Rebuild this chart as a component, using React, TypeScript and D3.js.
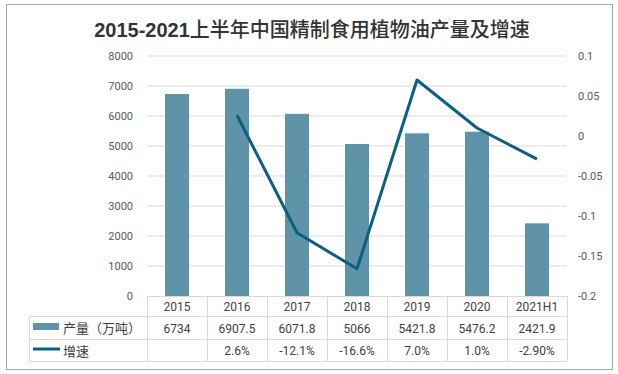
import * as d3 from "d3";
import { useEffect } from "react";

const categories = ["2015", "2016", "2017", "2018", "2019", "2020", "2021H1"];
const output = [6734, 6907.5, 6071.8, 5066, 5421.8, 5476.2, 2421.9];
const outputLabels = ["6734", "6907.5", "6071.8", "5066", "5421.8", "5476.2", "2421.9"];
const growth: (number | null)[] = [null, 0.026, -0.121, -0.166, 0.07, 0.01, -0.029];
const growthLabels = ["", "2.6%", "-12.1%", "-16.6%", "7.0%", "1.0%", "-2.90%"];
const leftTicks = [0, 1000, 2000, 3000, 4000, 5000, 6000, 7000, 8000];
const rightTicks = [-0.2, -0.15, -0.1, -0.05, 0, 0.05, 0.1];

export default function App() {
  const width = 618;
  const height = 374;
  const plotLeft = 147;
  const plotRight = 567;
  const plotTop = 56;
  const plotBottom = 296;
  const tableLeft = 29;
  const row1 = 316;
  const row2 = 339;
  const row3 = 361;

  const barColor = "#5f93a8";
  const lineColor = "#0b5f82";
  const gridColor = "#d9d9d9";
  const textColor = "#595959";
  const font = "Roboto, 'Noto Sans CJK SC', sans-serif";

  useEffect(() => {
    document.body.style.margin = "0";
  }, []);

  const x = d3.scaleBand<string>(categories, [plotLeft, plotRight]);
  const yLeft = d3.scaleLinear([0, 8000], [plotBottom, plotTop]);
  const yRight = d3.scaleLinear([-0.2, 0.1], [plotBottom, plotTop]);
  const barW = x.bandwidth() * 0.4;
  const cx = (c: string) => (x(c) ?? 0) + x.bandwidth() / 2;

  const line = d3
    .line<number | null>()
    .defined(d => d !== null)
    .x((d, i) => cx(categories[i]))
    .y(d => yRight(d as number));

  const colEdges = [plotLeft, ...categories.map(c => (x(c) ?? 0) + x.bandwidth())];

  return (
    <svg width={width} height={height} style={{ display: "block" }} fontFamily={font}>
      <rect x={0} y={0} width={width} height={height} fill="#fff" />
      <rect x={6.5} y={4.5} width={606} height={365} fill="none" stroke="#a6a6a6" />

      <text x={312} y={37} textAnchor="middle" fontSize={20} fill="#333"
        fontFamily="'Liberation Sans', 'Noto Sans CJK SC', sans-serif">
        <tspan fontWeight="bold">2015-2021</tspan>
        <tspan fontFamily="'Noto Sans CJK SC', sans-serif" fontWeight={500}>上半年中国精制食用植物油产量及增速</tspan>
      </text>

      {/* gridlines */}
      {leftTicks.slice(1).map(t => (
        <line key={t} x1={plotLeft} x2={plotRight} y1={yLeft(t)} y2={yLeft(t)} stroke={gridColor} />
      ))}

      {/* left axis labels */}
      {leftTicks.map(t => (
        <text key={t} x={133} y={yLeft(t)} dy="0.35em" textAnchor="end" fontSize={11} fill={textColor}>{t}</text>
      ))}

      {/* right axis labels */}
      {rightTicks.map(t => (
        <text key={t} x={578} y={yRight(t)} dy="0.35em" textAnchor="start" fontSize={11} fill={textColor}>{String(t)}</text>
      ))}

      {/* bars */}
      {categories.map((c, i) => (
        <rect key={c} x={cx(c) - barW / 2} y={yLeft(output[i])} width={barW}
          height={yLeft(0) - yLeft(output[i])} fill={barColor} />
      ))}

      {/* growth line */}
      <path d={line(growth) ?? ""} fill="none" stroke={lineColor} strokeWidth={3} strokeLinejoin="round" />

      {/* data table */}
      <line x1={plotLeft} x2={plotRight} y1={plotBottom + 0.5} y2={plotBottom + 0.5} stroke={gridColor} />
      <line x1={tableLeft} x2={plotRight} y1={row1 + 0.5} y2={row1 + 0.5} stroke={gridColor} />
      <line x1={tableLeft} x2={plotRight} y1={row2 + 0.5} y2={row2 + 0.5} stroke={gridColor} />
      <line x1={tableLeft} x2={plotRight} y1={row3 + 0.5} y2={row3 + 0.5} stroke={gridColor} />
      <line x1={tableLeft + 0.5} x2={tableLeft + 0.5} y1={row1} y2={row3} stroke={gridColor} />
      {colEdges.map((e, i) => (
        <line key={i} x1={Math.round(e) + 0.5} x2={Math.round(e) + 0.5} y1={plotBottom} y2={row3} stroke={gridColor} />
      ))}

      {categories.map((c, i) => (
        <g key={c} fontSize={12} fill="#404040" textAnchor="middle">
          <text x={cx(c)} y={(plotBottom + row1) / 2 + 1} dy="0.35em">{c}</text>
          <text x={cx(c)} y={(row1 + row2) / 2 + 1} dy="0.35em">{outputLabels[i]}</text>
          <text x={cx(c)} y={(row2 + row3) / 2 + 1} dy="0.35em">{growthLabels[i]}</text>
        </g>
      ))}

      {/* legend keys */}
      <rect x={33} y={323} width={26} height={7} fill={barColor} />
      <text x={63} y={(row1 + row2) / 2 + 1} dy="0.35em" fontSize={13} fill="#404040">产量（万吨）</text>
      <line x1={33} x2={60} y1={349} y2={349} stroke={lineColor} strokeWidth={3} />
      <text x={63} y={(row2 + row3) / 2 + 1} dy="0.35em" fontSize={13} fill="#404040">增速</text>
    </svg>
  );
}
